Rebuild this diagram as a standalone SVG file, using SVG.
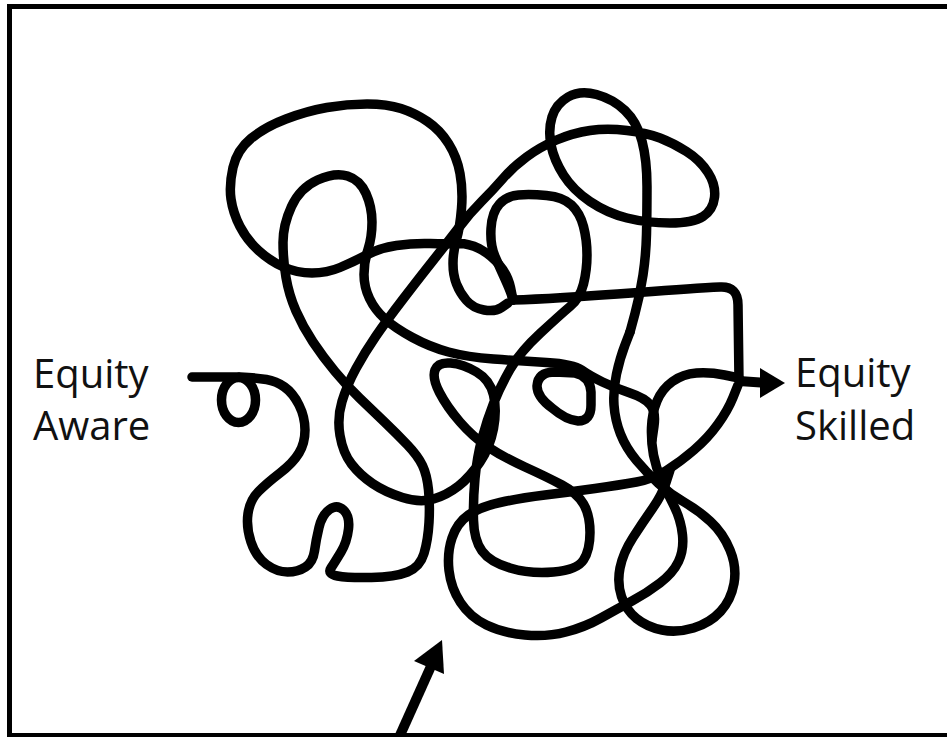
<svg xmlns="http://www.w3.org/2000/svg" width="947" height="737" viewBox="0 0 947 737">
<style>
.s{fill:none;stroke:#000;stroke-width:9.5;stroke-linecap:round;stroke-linejoin:round}
.t{font-family:"Open Sans","Liberation Sans",sans-serif;font-size:40px;fill:#111}
</style>
<rect x="0" y="0" width="947" height="737" fill="#fff"/>
<rect x="9.5" y="6.5" width="960" height="729" fill="none" stroke="#000" stroke-width="5"/>
<g id="label-aware">
<text class="t" x="33" y="388">Equity</text>
<text class="t" x="33" y="440">Aware</text>
</g>
<g id="label-skilled">
<text class="t" x="795" y="387">Equity</text>
<text class="t" x="795" y="440">Skilled</text>
</g>
<g id="scribble">
<path class="s" d="M192,377 L238,377"/>
<ellipse class="s" cx="238.5" cy="400" rx="17" ry="22.5"/>
<path class="s" d="M240,377 L248.5,377.5 Q257,378 266.5,379.5 Q276,381 284.5,387 Q293,393 299,405 Q305,417 305,430 Q305,443 299,453 Q293,463 280,473 Q267,483 258.5,491.5 Q250,500 248,513.5 Q246,527 251,542 Q256,557 266.5,564.5 Q277,572 287.5,572 Q298,572 305.5,567 Q313,562 314.5,551 Q316,540 319,527.5 Q322,515 329.5,509.5 Q337,504 343.5,510 Q350,516 348.5,529 Q347,542 341,552 Q335,562 331,568 Q327,574 337.5,576 Q348,578 371.5,577.5 Q395,577 407.5,572 Q420,567 424,553.5 Q428,540 429,522.5 Q430,505 428.5,490 Q427,475 422.5,465.5 Q418,456 407.5,445 Q397,434 384.5,422 Q372,410 359.5,398 Q347,386 335,371.5 Q323,357 313,342 Q303,327 296,311 Q289,295 286,277.5 Q283,260 283,242.5 Q283,225 291.5,206.5 Q300,188 317.5,180 Q335,172 347.5,176 Q360,180 366,193.5 Q372,207 372,222 Q372,237 368,249.5 Q364,262 364,274.5 Q364,287 369.5,298.5 Q375,310 385,319 Q395,328 412.5,337.5 Q430,347 448.5,352 Q467,357 493.5,359 Q520,361 546.5,362.5 Q573,364 581.5,370 Q590,376 602.5,382 Q615,388 630,393 Q645,398 650.5,405 Q656,412 654,426 L652,440"/>
<path class="s" d="M630,332 L635,313.5 Q640,295 643,275 Q646,255 646.5,234 Q647,213 647,186.5 Q647,160 642,141 Q637,122 625,110.5 Q613,99 596.5,94.5 Q580,90 568,97 Q556,104 552,117 Q548,130 551,145 Q554,160 563.5,175 Q573,190 590,201.5 Q607,213 627,218 Q647,223 670,223 Q693,223 703,216.5 Q713,210 714.5,197.5 Q716,185 708,172.5 Q700,160 686.5,151.5 Q673,143 660,138 Q647,133 627,130.5 Q607,128 590,130.5 Q573,133 556.5,140 Q540,147 526.5,157 Q513,167 503,178.5 Q493,190 481.5,201.5 Q470,213 458.5,228 Q447,243 433.5,260 Q420,277 403.5,298.5 Q387,320 376,336 Q365,352 356,368.5 Q347,385 342,401.5 Q337,418 340,435.5 Q343,453 351.5,464 Q360,475 372.5,483.5 Q385,492 402.5,497.5 Q420,503 433.5,499 Q447,495 458.5,486 Q470,477 480,462 Q490,447 493.5,428.5 Q497,410 493.5,395 Q490,380 476.5,372 Q463,364 450.5,363 Q438,362 435,370 Q432,378 439.5,392.5 Q447,407 460,422 Q473,437 488,447 Q503,457 525,467 Q547,477 562,485 Q577,493 583.5,504 Q590,515 590,532.5 Q590,550 583.5,560 Q577,570 553.5,572 Q530,574 510,568 Q490,562 482,551 Q474,540 473.5,520 Q473,500 475,478.5 Q477,457 482,438.5 Q487,420 493.5,403.5 Q500,387 510,369.5 Q520,352 540,333.5 Q560,315 570,306.5 Q580,298 583.5,284 Q587,270 587,255 Q587,240 583.5,226.5 Q580,213 571.5,205 Q563,197 546.5,195.5 Q530,194 518.5,195 Q507,196 499.5,204 Q492,212 491,228.5 Q490,245 495,256.5 Q500,268 505,279 Q510,290 511.5,295 L513,300"/>
<path class="s" d="M513,300 L510.5,287.5 Q508,275 499,264.5 Q490,254 479,248.5 Q468,243 457.5,243.5 Q447,244 430,243.5 Q413,243 396.5,245.5 Q380,248 366.5,255 Q353,262 340,267.5 Q327,273 312,273 Q297,273 283.5,267 Q270,261 258.5,250.5 Q247,240 240,226.5 Q233,213 231,199 Q229,185 233,167.5 Q237,150 251,138.5 Q265,127 286,119 Q307,111 327,107.5 Q347,104 367,104 Q387,104 401,108.5 Q415,113 427.5,121.5 Q440,130 448.5,143.5 Q457,157 460,173.5 Q463,190 461.5,208.5 Q460,227 456.5,239.5 Q453,252 453,263.5 Q453,275 456.5,284 Q460,293 466.5,300.5 Q473,308 484,310 Q495,312 501.5,307.5 L508,303"/>
<path class="s" d="M513,300 C580,298 660,290 720,287 Q738,286 738,305 L739,380"/>
<path class="s" d="M739,378 L724.5,375 Q710,372 696.5,373 Q683,374 672.5,381.5 Q662,389 657,401 Q652,413 651.5,427.5 Q651,442 653.5,455 Q656,468 661.5,480 Q667,492 674,506 Q681,520 682.5,535 Q684,550 678.5,561.5 Q673,573 660,583 Q647,593 632,601 Q617,609 601,618 Q585,627 566,632 Q547,637 525,635 Q503,633 486.5,625 Q470,617 460.5,602.5 Q451,588 449,570.5 Q447,553 452,538 Q457,523 468.5,515 Q480,507 500,502.5 Q520,498 545,495 Q570,492 595,488.5 Q620,485 636.5,482 Q653,479 666.5,470.5 Q680,462 694,450 Q708,438 718,424 Q728,410 733,397.5 L738,385"/>
<path class="s" d="M630,332 L625,345 Q620,358 616.5,374 Q613,390 614,405 Q615,420 620.5,434 Q626,448 636.5,460.5 Q647,473 658.5,483.5 Q670,494 684,502 Q698,510 710.5,521.5 Q723,533 730,550 Q737,567 734,583.5 Q731,600 720.5,611.5 Q710,623 693.5,628 Q677,633 662,630 Q647,627 636.5,618.5 Q626,610 621.5,596.5 Q617,583 620,568 Q623,553 633,537.5 Q643,522 652.5,508.5 Q662,495 666,482.5 L670,470"/>
<path class="s" d="M555,372 Q538,372 537,386 Q537,397 552,408 Q566,420 578,421 Q591,421 591,405 L591,392 Q590,376 575,373 Z"/>
</g>
<g id="connectors">
<path d="M739,381 L768,383" fill="none" stroke="#000" stroke-width="10"/>
<polygon points="760,368 785,383 760,398" fill="#000"/>
<path d="M397,742 L432,664" fill="none" stroke="#000" stroke-width="10"/>
<polygon points="442,640 414,661 444,674" fill="#000"/>
</g>
</svg>
